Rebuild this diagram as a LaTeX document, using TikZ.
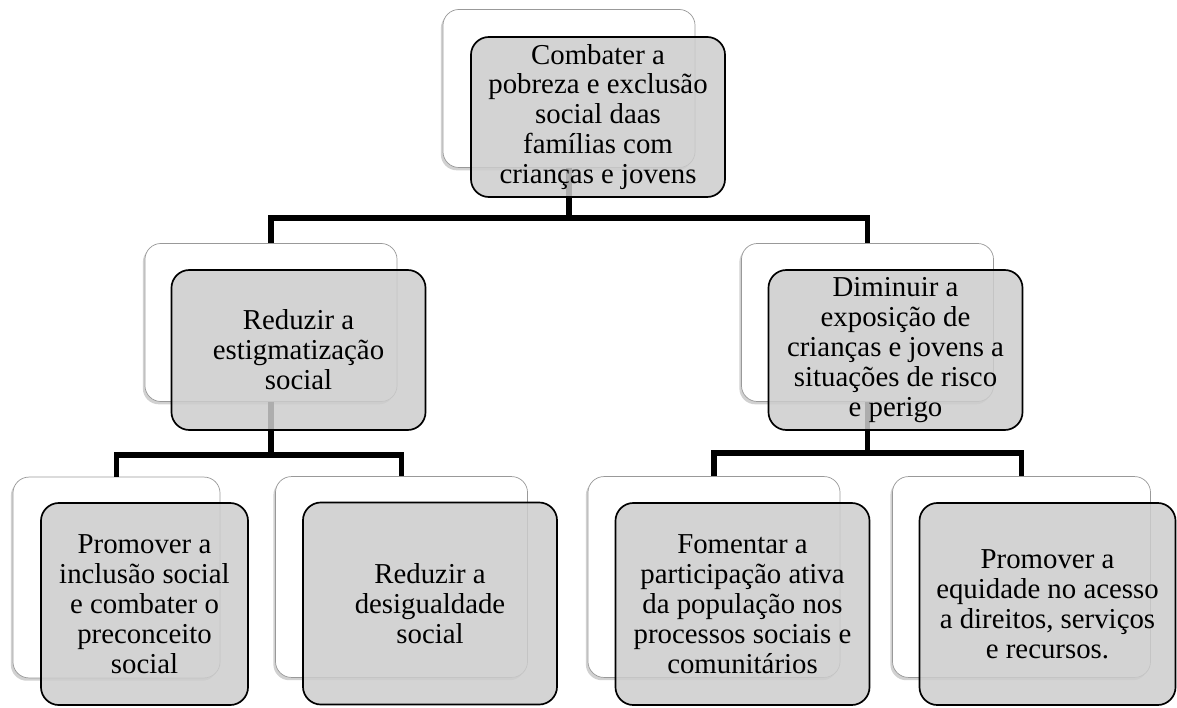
\documentclass[tikz,border=0pt]{standalone}
\usepackage{fontspec}
\setmainfont{Liberation Serif}
\usetikzlibrary{shadows}

\begin{document}
\begin{tikzpicture}[x=0.025cm, y=-0.025cm,
        back/.style={draw=black!40, line width=0.5pt, fill=white, rounded corners=0.4cm,
          drop shadow={shadow xshift=-1.5pt, shadow yshift=-2pt, opacity=0.3, fill=black!60},
          minimum width=6.3cm, minimum height=3.95cm, inner sep=0pt},
        front/.style={draw=black, line width=1.2pt, fill=black!20, fill opacity=0.85, text opacity=1,
          rounded corners=0.45cm, minimum width=6.35cm, minimum height=4cm, inner sep=2pt,
          align=center, font=\fontsize{20.5}{21.3}\selectfont},
        link/.style={line width=4pt}]
        \useasboundingbox (0,0) rectangle (1177,708);

        \node [back] (topb) at (569,88.5) {};
        \node [back] (redb) at (271,322.5) {};
        \node [back] (dimb) at (867.5,322.5) {};
        \node [back, minimum width=5.175cm, minimum height=5.02cm] (incb) at (116.5,577.5) {};
        \node [back, minimum height=5.02cm] (desb) at (401.5,577) {};
        \node [back, minimum height=5.02cm] (parb) at (714,577) {};
        \node [back, minimum width=6.45cm, minimum height=5.02cm] (equb) at (1021.5,577) {};

        \coordinate (j1) at (569,218);
        \coordinate (j2) at (271,455);
        \coordinate (j3) at (867.5,453);
        \draw [link] (topb.south) -- (j1);
        \draw [link] (redb.north) |- (j1) -| (dimb.north);
        \draw [link] (redb.south) -- (j2);
        \draw [link] (incb.north) |- (j2) -| (desb.north);
        \draw [link] (dimb.south) -- (j3);
        \draw [link] (parb.north) |- (j3) -| (equb.north);

        \node [front] (top) at (598,117) {Combater a\\pobreza e exclusão\\social daas\\famílias com\\crianças e jovens};
        \node [front] (red) at (298.5,350) {Reduzir a\\estigmatização\\social};
        \node [front] (dim) at (895.5,350) {Diminuir a\\exposição de\\crianças e jovens a\\situações de risco\\e perigo};
        \node [front, minimum width=5.175cm, minimum height=5.05cm] (inc) at (144.5,604) {Promover a\\inclusão social\\e combater o\\preconceito\\social};
        \node [front, minimum height=5.05cm] (des) at (430,603.5) {Reduzir a\\desigualdade\\social};
        \node [front, minimum height=5.05cm] (par) at (742.5,604) {Fomentar a\\participação ativa\\da população nos\\processos sociais e\\comunitários};
        \node [front, minimum width=6.4cm, minimum height=5.05cm] (equ) at (1047.5,604) {Promover a\\equidade no acesso\\a direitos, serviços\\e recursos.};

      \end{tikzpicture}
\end{document}
